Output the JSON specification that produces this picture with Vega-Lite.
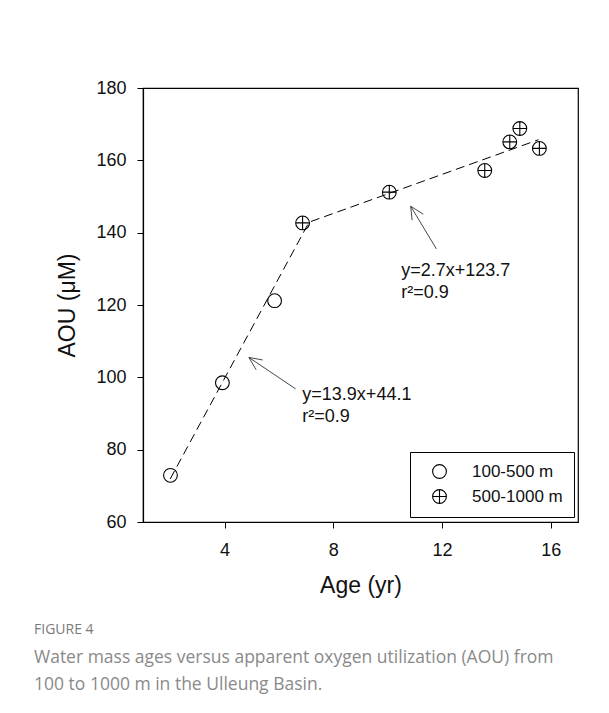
{
  "$schema": "https://vega.github.io/schema/vega-lite/v6.json",
  "width": 435,
  "height": 434,
  "autosize": "none",
  "padding": {"left": 143, "top": 88, "right": 31, "bottom": 191},
  "background": "white",
  "config": {
    "font": "Liberation Sans",
    "view": {"stroke": "black", "strokeWidth": 1.2},
    "axis": {
      "grid": false,
      "domainColor": "black",
      "domainWidth": 1.2,
      "tickColor": "black",
      "tickWidth": 1,
      "tickSize": 6,
      "labelFont": "Liberation Sans",
      "labelFontSize": 18,
      "labelColor": "#111",
      "titleFont": "Liberation Sans",
      "titleFontSize": 23,
      "titleFontWeight": "normal",
      "titleColor": "#111"
    }
  },
  "title": {
    "text": "FIGURE 4",
    "subtitle": ["Water mass ages versus apparent oxygen utilization (AOU) from", "100 to 1000 m in the Ulleung Basin."],
    "orient": "bottom",
    "anchor": "start",
    "frame": "group",
    "dx": -109,
    "offset": 26,
    "font": "Open Sans",
    "fontSize": 14,
    "fontWeight": "normal",
    "color": "#7a7a7a",
    "subtitleFont": "Open Sans",
    "subtitleFontSize": 17.5,
    "subtitleColor": "#8a8a8a",
    "subtitleLineHeight": 26.5,
    "subtitlePadding": 12
  },
  "datasets": {
    "points": [
      {"age": 2.01, "aou": 72.9, "depth": "100-500 m"},
      {"age": 3.92, "aou": 98.5, "depth": "100-500 m"},
      {"age": 5.84, "aou": 121.2, "depth": "100-500 m"},
      {"age": 6.87, "aou": 142.7, "depth": "500-1000 m"},
      {"age": 10.06, "aou": 151.2, "depth": "500-1000 m"},
      {"age": 13.57, "aou": 157.2, "depth": "500-1000 m"},
      {"age": 14.49, "aou": 165.1, "depth": "500-1000 m"},
      {"age": 14.86, "aou": 168.8, "depth": "500-1000 m"},
      {"age": 15.58, "aou": 163.3, "depth": "500-1000 m"}
    ],
    "fit": [
      {"age": 2.0, "aou": 71.9},
      {"age": 7.107, "aou": 142.9},
      {"age": 15.55, "aou": 165.7}
    ],
    "arrows": [
      {"x": 4.895, "y": 105.5, "x2": 6.614, "y2": 96.8},
      {"x": 4.895, "y": 105.5, "x2": 5.403, "y2": 104.8},
      {"x": 4.895, "y": 105.5, "x2": 5.16, "y2": 102.1},
      {"x": 10.846, "y": 147.3, "x2": 11.792, "y2": 135.5},
      {"x": 10.846, "y": 147.3, "x2": 10.9, "y2": 143.45},
      {"x": 10.846, "y": 147.3, "x2": 11.31, "y2": 145.1}
    ],
    "notes": [
      {"age": 6.86, "aou": 93.6, "label": "y=13.9x+44.1"},
      {"age": 6.86, "aou": 87.6, "label": "r²=0.9"},
      {"age": 10.5, "aou": 128.0, "label": "y=2.7x+123.7"},
      {"age": 10.5, "aou": 122.0, "label": "r²=0.9"}
    ]
  },
  "layer": [
    {
      "data": {"name": "fit"},
      "mark": {"type": "line", "color": "black", "strokeWidth": 1, "strokeDash": [9, 5]},
      "encoding": {
        "x": {"field": "age", "type": "quantitative", "scale": {"domain": [1, 17], "nice": false, "zero": false},
              "axis": {"values": [4, 8, 12, 16], "title": "Age (yr)", "labelPadding": 13, "titlePadding": 15}},
        "y": {"field": "aou", "type": "quantitative", "scale": {"domain": [60, 180], "nice": false, "zero": false},
              "axis": {"values": [60, 80, 100, 120, 140, 160, 180], "title": "AOU (μM)", "labelPadding": 11, "titlePadding": 16}}
      }
    },
    {
      "data": {"name": "arrows"},
      "mark": {"type": "rule", "color": "#333", "strokeWidth": 0.9},
      "encoding": {
        "x": {"field": "x", "type": "quantitative"},
        "y": {"field": "y", "type": "quantitative"},
        "x2": {"field": "x2"},
        "y2": {"field": "y2"}
      }
    },
    {
      "data": {"name": "points"},
      "mark": {"type": "point", "filled": false, "color": "black", "strokeWidth": 1.1, "size": 190, "opacity": 1},
      "encoding": {
        "x": {"field": "age", "type": "quantitative"},
        "y": {"field": "aou", "type": "quantitative"},
        "shape": {
          "field": "depth", "type": "nominal",
          "scale": {"domain": ["100-500 m", "500-1000 m"],
                    "range": ["circle", "M-1,0A1,1,0,1,1,1,0A1,1,0,1,1,-1,0Z M-1,0L1,0 M0,-1L0,1"]},
          "legend": {
            "title": null,
            "orient": "none",
            "legendX": 267,
            "legendY": 364,
            "strokeColor": "black",
            "fillColor": "white",
            "padding": 11,
            "symbolOffset": 10,
            "symbolSize": 190,
            "symbolStrokeColor": "black",
            "symbolStrokeWidth": 1.1,
            "symbolFillColor": "transparent",
            "labelFont": "Liberation Sans",
            "labelFontSize": 17,
            "labelColor": "#111",
            "labelOffset": 24,
            "rowPadding": 6
          }
        }
      }
    },
    {
      "data": {"name": "notes"},
      "mark": {"type": "text", "align": "left", "baseline": "alphabetic", "fontSize": 18, "color": "#111", "font": "Liberation Sans"},
      "encoding": {
        "x": {"field": "age", "type": "quantitative"},
        "y": {"field": "aou", "type": "quantitative"},
        "text": {"field": "label"}
      }
    }
  ]
}
